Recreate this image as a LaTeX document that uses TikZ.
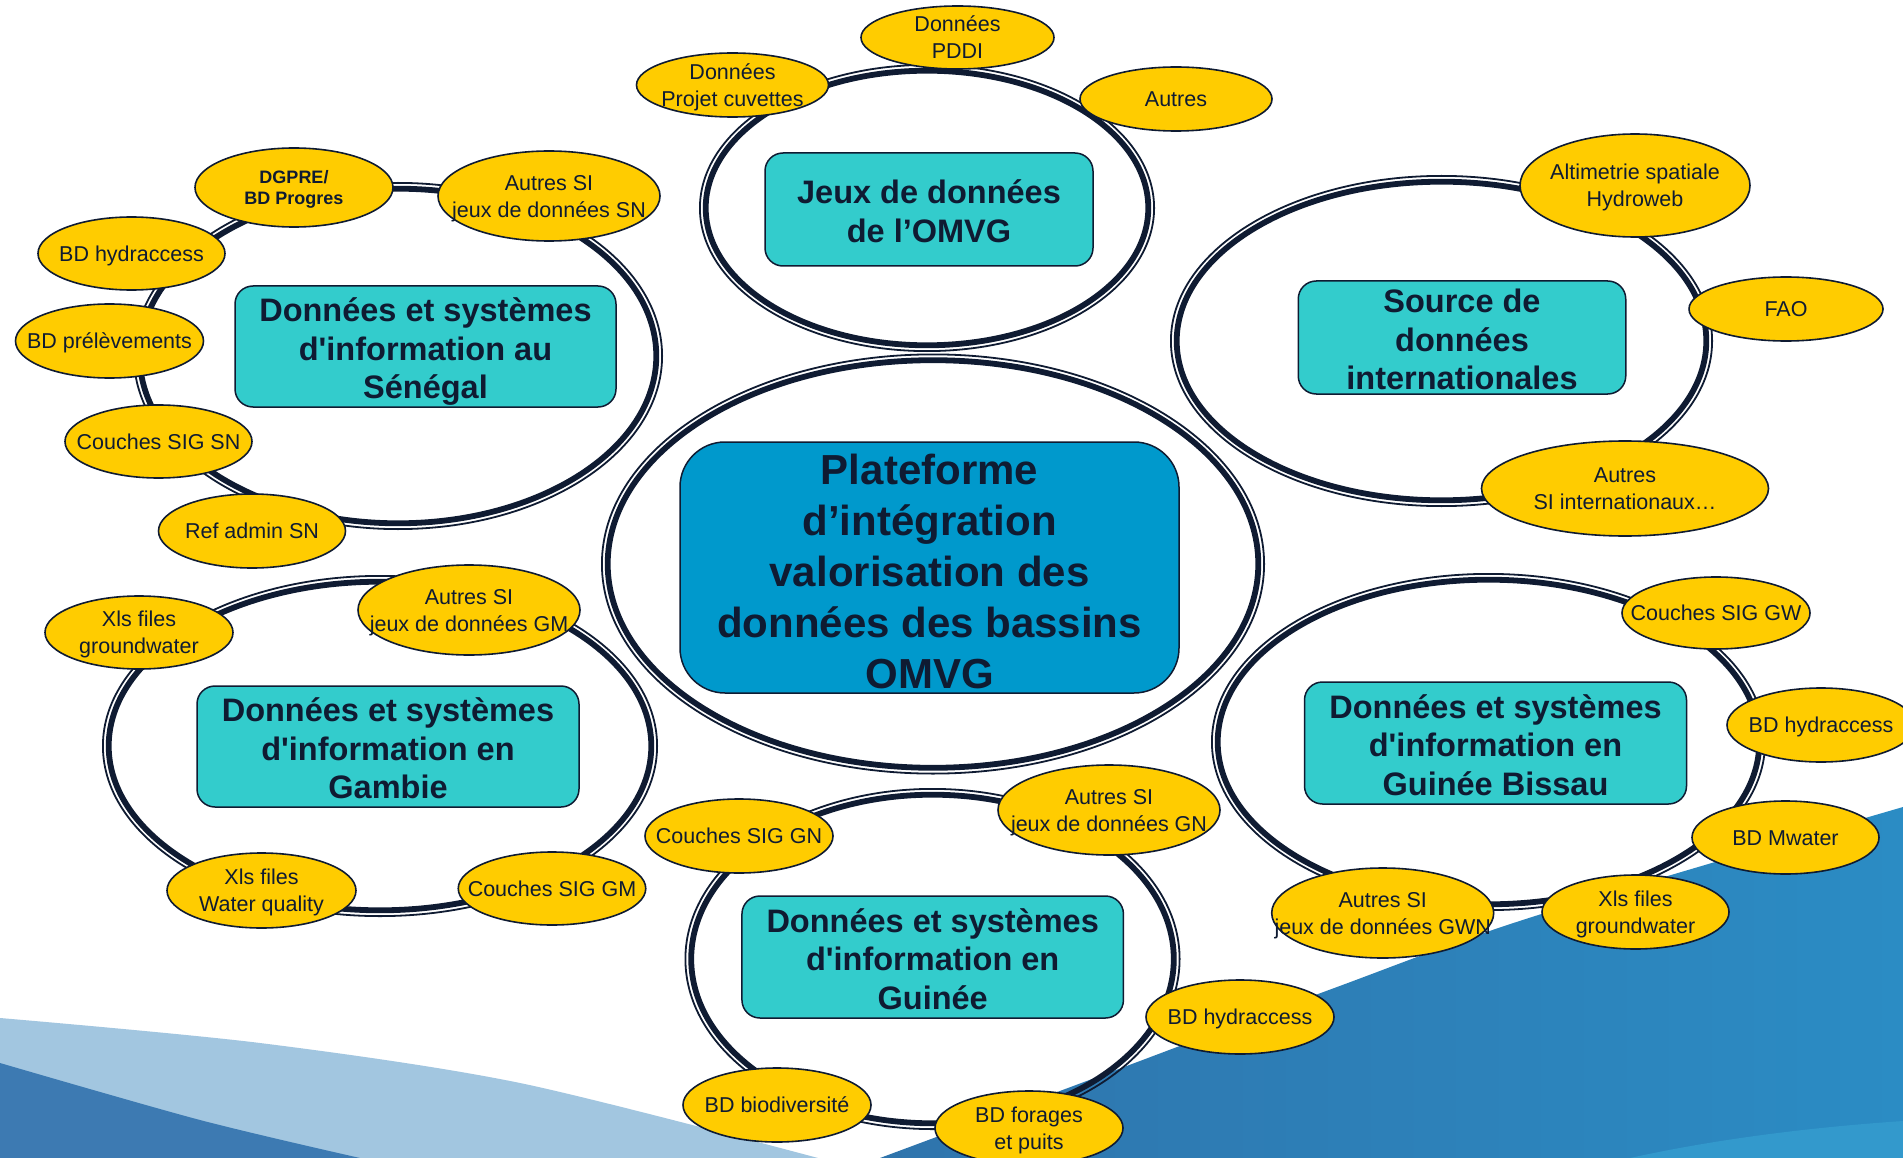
\documentclass[tikz,border=0pt]{standalone}
\usepackage{fontspec}
\setmainfont{Liberation Sans}
\newfontfamily\lsans{Liberation Sans}
\usetikzlibrary{shapes.geometric}
\definecolor{navy}{RGB}{15,27,50}
\definecolor{ylw}{RGB}{255,204,0}
\definecolor{tealbx}{RGB}{51,204,204}
\definecolor{cblue}{RGB}{0,153,204}
\definecolor{lblue}{RGB}{162,198,224}
\definecolor{dblueL}{RGB}{61,122,178}
\definecolor{rblueA}{RGB}{47,116,172}
\definecolor{rblueB}{RGB}{43,140,196}
\definecolor{rblueC}{RGB}{51,153,204}
\newcommand\ctext[1]{\makebox[0pt]{\raisebox{\dimexpr0.2\baselineskip-0.608em\relax}[0pt][0pt]{\begin{tabular}{@{}c@{}}#1\end{tabular}}}}
\newcommand\ringdraw[4]{%
  \draw[navy, line width=1.8pt] (#1,#2) ellipse [x radius=#3-0.9, y radius=#4-0.9];
  \draw[navy, line width=5.8pt] (#1,#2) ellipse [x radius=#3-6.7, y radius=#4-6.7];}
\tikzset{
  yel/.style={ellipse, draw=navy, line width=1.6pt, fill=ylw, inner sep=0pt, text=navy,
    font=\fontsize{21.5}{27}\selectfont},
  yelb/.style={yel, font=\bfseries\fontsize{18}{21.5}\selectfont},
  tealbox/.style={rectangle, rounded corners=18pt, draw=navy, line width=1.5pt, fill=tealbx,
    inner sep=0pt, text=navy, font=\lsans\bfseries\fontsize{32.5}{38.5}\selectfont},
  mainbox/.style={rectangle, rounded corners=45pt, draw=navy, line width=1.5pt, fill=cblue,
    inner sep=0pt, text=navy, font=\bfseries\fontsize{42}{51}\selectfont},
  sz/.style 2 args={minimum width=#1pt, minimum height=#2pt}
}
\begin{document}
\begin{tikzpicture}[x=1pt, y=-1pt]
\useasboundingbox (0,0) rectangle (1903,1158);
% background
\fill[white] (0,0) rectangle (1903,1158);
\fill[lblue] plot[smooth] coordinates {(0,1018) (260,1043) (520,1083) (818,1158)} -- (0,1158) -- cycle;
\fill[dblueL] plot[smooth] coordinates {(0,1063) (200,1120) (360,1158)} -- (0,1158) -- cycle;
\shade[left color=rblueA, right color=rblueB] plot[smooth] coordinates {(880,1158) (1100,1076) (1337,987) (1532,917) (1903,807)} -- (1903,1158) -- cycle;
\fill[rblueC] (1630,1158) .. controls (1730,1136) and (1830,1126) .. (1903,1121) -- (1903,1158) -- cycle;
% rings
\ringdraw{933}{564}{332}{210.5}
\ringdraw{398}{356}{265}{174}
\ringdraw{927}{208}{228}{144}
\ringdraw{1441.5}{341}{271.5}{166}
\ringdraw{380}{746}{278}{171}
\ringdraw{1488.5}{742}{277.5}{169}
\ringdraw{932.5}{959}{248}{171}
% central box
\node[mainbox, sz={499}{251}] (main) at (929.5,567.5) {\ctext{Plateforme\\d’intégration\\valorisation des\\données des bassins\\OMVG}};
% teal boxes
\node[tealbox, sz={381}{121}] (sn) at (425.5,346.5) {\ctext{Données et systèmes\\d'information au\\Sénégal}};
\node[tealbox, sz={328}{113}] (om) at (929,209.5) {\ctext{Jeux de données\\de l’OMVG}};
\node[tealbox, sz={327.5}{113}] (in) at (1462,337.5) {\ctext{Source de\\données\\internationales}};
\node[tealbox, sz={382}{121}] (gm) at (388,746.5) {\ctext{Données et systèmes\\d'information en\\Gambie}};
\node[tealbox, sz={382}{122}] (gb) at (1495.5,743) {\ctext{Données et systèmes\\d'information en\\Guinée Bissau}};
\node[tealbox, sz={381.5}{122}] (gn) at (932.7,957) {\ctext{Données et systèmes\\d'information en\\Guinée}};
% Senegal
\node[yelb, sz={198}{79}] (sn1) at (294,187.5) {\ctext{DGPRE/\\BD Progres}};
\node[yel, sz={222}{90}] (sn2) at (549,196) {\ctext{Autres SI\\jeux de données SN}};
\node[yel, sz={187}{73}] (sn3) at (131.5,253.5) {\ctext{BD hydraccess}};
\node[yel, sz={188}{74}] (sn4) at (109.5,341) {\ctext{BD prélèvements}};
\node[yel, sz={187}{73}] (sn5) at (158.5,441.5) {\ctext{Couches SIG SN}};
\node[yel, sz={187}{74}] (sn6) at (252,531) {\ctext{Ref admin SN}};
% OMVG
\node[yel, sz={193}{63}] (om1) at (957.5,37.5) {\ctext{Données\\PDDI}};
\node[yel, sz={192}{64}] (om2) at (732.5,85) {\ctext{Données\\Projet cuvettes}};
\node[yel, sz={192}{64}] (om3) at (1176,99) {\ctext{Autres}};
% International
\node[yel, sz={230}{103}] (in1) at (1635,185.5) {\ctext{Altimetrie spatiale\\Hydroweb}};
\node[yel, sz={194}{64}] (in2) at (1786,309) {\ctext{FAO}};
\node[yel, sz={287}{95}] (in3) at (1625,488.5) {\ctext{Autres\\SI internationaux…}};
% Gambia
\node[yel, sz={188}{73}] (gm1) at (139,632.5) {\ctext{Xls files\\groundwater}};
\node[yel, sz={222}{90}] (gm2) at (469,610) {\ctext{Autres SI\\jeux de données GM}};
\node[yel, sz={189}{75}] (gm3) at (261.5,890.5) {\ctext{Xls files\\Water quality}};
\node[yel, sz={187.5}{73}] (gm4) at (552,888.5) {\ctext{Couches SIG GM}};
% Guinea Bissau
\node[yel, sz={188}{72}] (gb1) at (1716,613) {\ctext{Couches SIG GW}};
\node[yel, sz={188}{74}] (gb2) at (1821,725) {\ctext{BD hydraccess}};
\node[yel, sz={187}{73}] (gb3) at (1785.5,837.5) {\ctext{BD Mwater}};
\node[yel, sz={187}{74}] (gb4) at (1635.5,912) {\ctext{Xls files\\groundwater}};
\node[yel, sz={222}{90}] (gb5) at (1382.7,913) {\ctext{Autres SI\\jeux de données GWN}};
% Guinea
\node[yel, sz={188}{74}] (gn1) at (739,836) {\ctext{Couches SIG GN}};
\node[yel, sz={222}{90}] (gn2) at (1109,810) {\ctext{Autres SI\\jeux de données GN}};
\node[yel, sz={188}{74}] (gn3) at (1240,1017) {\ctext{BD hydraccess}};
\node[yel, sz={188}{74}] (gn4) at (777,1105) {\ctext{BD biodiversité}};
\node[yel, sz={188}{74}] (gn5) at (1029,1128) {\ctext{BD forages\\et puits}};
\end{tikzpicture}
\end{document}
